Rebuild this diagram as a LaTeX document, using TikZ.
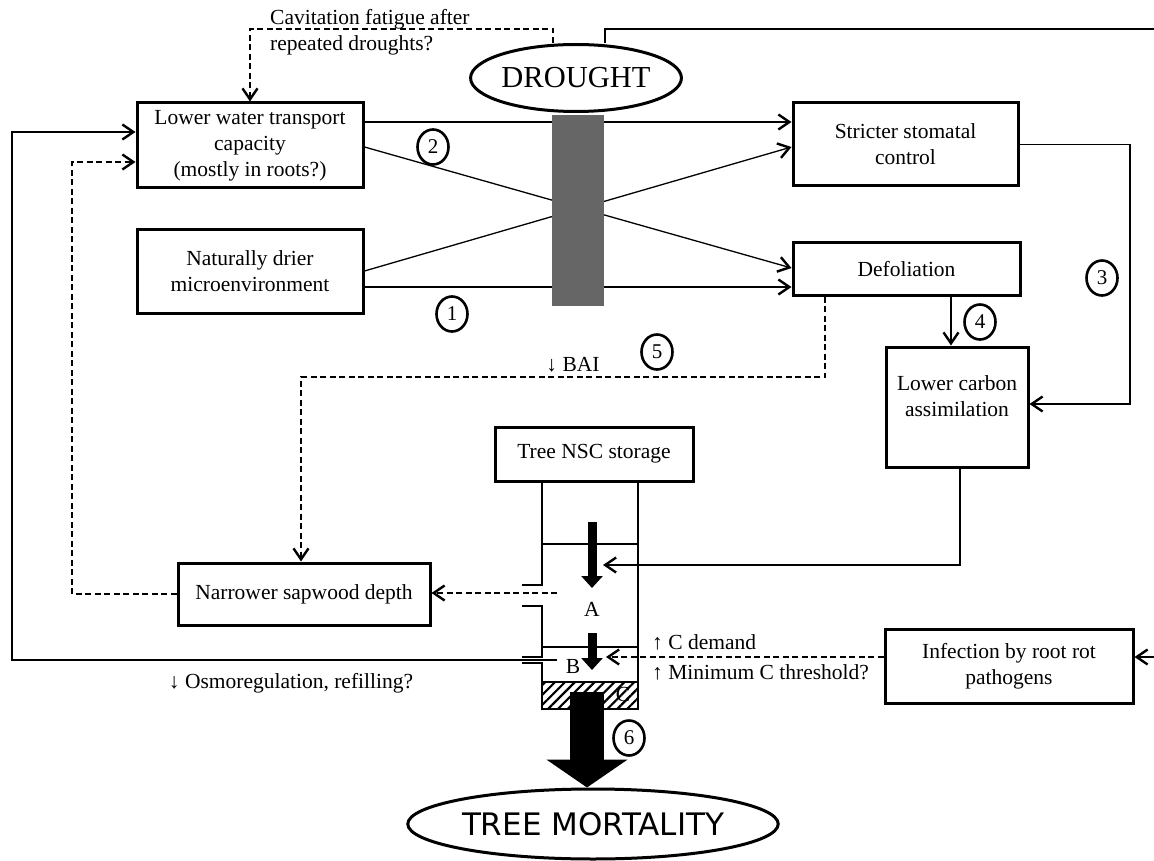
\documentclass[tikz,border=0pt]{standalone}
\usepackage{fontspec}
\setmainfont{Liberation Serif}
\newfontfamily\dejavu{DejaVu Sans}
\usetikzlibrary{arrows.meta,shapes.geometric,patterns.meta,calc}
\definecolor{bargray}{HTML}{666666}
\begin{document}
\begin{tikzpicture}[x=1pt,y=-1pt,
  box/.style={draw, line width=3pt, fill=white, inner sep=0pt, align=center, font=\fontsize{21.5}{26}\selectfont},
  conn/.style={line width=1.3pt},
  arr/.style={conn, -{Straight Barb[length=11pt,width=15pt,line width=2.4pt]}},
  dsh/.style={dash pattern=on 6pt off 3.5pt},
  num/.style={draw, ellipse, line width=2.6pt, minimum width=31pt, minimum height=35pt, inner sep=0pt, font=\fontsize{21}{24}\selectfont},
  lab/.style={font=\fontsize{21.5}{26}\selectfont, inner sep=0pt},
  wall/.style={line width=1.3pt},
  fatarrow/.style={line width=9pt, -{Triangle[length=12pt,width=21pt]}},
]
\useasboundingbox (0,0) rectangle (1154,861);

% helper coordinates
\coordinate (y122) at (0,122);
\coordinate (y132) at (0,132);
\coordinate (y147) at (0,147);
\coordinate (y162) at (0,162);
\coordinate (y268) at (0,268);
\coordinate (y271) at (0,271);
\coordinate (y287) at (0,287);
\coordinate (y377) at (0,377);
\coordinate (y404) at (0,404);
\coordinate (y657) at (0,657);
\coordinate (y660) at (0,660);
\coordinate (x12) at (12,0);
\coordinate (x72) at (72,0);
\coordinate (x301) at (301,0);
\coordinate (x825) at (825,0);
\coordinate (x951) at (951,0);
\coordinate (x960) at (960,0);
\coordinate (x1130) at (1130,0);
\coordinate (cav) at (553,29);
\coordinate (dtop) at (605,29);
\coordinate (edgeR) at (1154,29);
\coordinate (edgeInf) at (1154,657);
\coordinate (colin) at (603,565);
\coordinate (cinf) at (606,657);
\coordinate (cnsd) at (557,593);
\coordinate (cloop) at (557,660);
\coordinate (c6) at (587,692);

% boxes
\node[box, minimum width=226pt, minimum height=85pt] (lwt) at (250,145.5) {Lower water transport\\capacity\\(mostly in roots?)};
\node[box, minimum width=225pt, minimum height=83pt] (ssc) at (905.5,144.5) {Stricter stomatal\\control};
\node[box, minimum width=226pt, minimum height=83pt] (nat) at (250,271.5) {Naturally drier\\microenvironment};
\node[box, minimum width=227pt, minimum height=52pt] (def) at (906.5,269) {Defoliation};
\node[box, minimum width=142pt, minimum height=120pt] (lca) at (957,407) {};
\node[lab, align=center] (lcat) at (957,396) {Lower carbon\\assimilation};
\node[box, minimum width=198pt, minimum height=54pt] (nsc) at (594,454) {Tree NSC storage};
\node[box, minimum width=252pt, minimum height=62pt] (nsd) at (304,594) {Narrower sapwood depth};
\node[box, minimum width=248pt, minimum height=74pt] (inf) at (1009,666) {Infection by root rot\\pathogens};

% ellipses
\node[draw, ellipse, line width=3pt, fill=white, inner sep=0pt, minimum width=191pt, minimum height=67pt, font=\fontsize{30.5}{36}\selectfont] (dr) at (576,78) {DROUGHT};
\node[draw, ellipse, line width=3pt, fill=white, inner sep=0pt, minimum width=342pt, minimum height=70pt, font=\dejavu\fontsize{31}{36}\selectfont] (tm) at (593,824) {TREE MORTALITY};

% drought connectors
\draw[arr, dsh] (dr.north -| cav) -- (cav) -| (lwt.north);
\draw[conn] (dr.north -| dtop) -- (dtop) -- (edgeR);

% crossing lines
\draw[arr] (lwt.east |- y122) -- (ssc.west |- y122);
\draw[arr] (lwt.east |- y147) -- (def.west |- y268);
\draw[arr] (nat.east |- y271) -- (ssc.west |- y147);
\draw[arr] (nat.east |- y287) -- (def.west |- y287);

% gray bar
\node[fill=bargray, inner sep=0pt, minimum width=52pt, minimum height=191pt] (bar) at (578,210.5) {};

% stricter -> lower carbon
\draw[arr] (ssc.east) -- (ssc.east -| x1130) -- (x1130 |- y404) -- (lca.east |- y404);
% defoliation -> lower carbon
\draw[arr] (def.south -| x951) -- (lca.north -| x951);
% defoliation -> narrower sapwood (BAI)
\draw[arr, dsh] (def.south -| x825) -- (x825 |- y377) -- (x301 |- y377) -- (nsd.north -| x301);
% lower carbon -> storage
\draw[arr] (lca.south -| x960) |- (colin);
% infection -> storage
\draw[arr, dsh] (inf.west |- y657) -- (cinf);
\draw[arr] (edgeInf) -- (inf.east |- y657);
% storage -> narrower sapwood
\draw[arr, dsh] (cnsd) -- (nsd.east |- cnsd);
% narrower sapwood -> lower water transport
\draw[arr, dsh] (nsd.west) -- (x72 |- nsd.west) -- (x72 |- y162) -- (lwt.west |- y162);
% osmoregulation loop
\draw[arr] (cloop) -- (x12 |- y660) -- (x12 |- y132) -- (lwt.west |- y132);

% storage column
\draw[wall] (638,481) -- (638,709);
\draw[wall] (542,481) -- (542,585) -- (522,585);
\draw[wall] (522,606) -- (542,606) -- (542,657) -- (522,657);
\draw[wall] (522,663) -- (542,663) -- (542,682);
\draw[wall] (542,544) -- (638,544);
\draw[wall] (542,647) -- (638,647);
\fill[pattern={Lines[angle=45,distance=7pt,line width=2.2pt]}] (542,682) rectangle (638,709);
\draw[line width=1.5pt] (542,682) rectangle (638,709);

\node[lab] (la) at (592,609) {A};
\node[lab] (lb) at (573,666) {B};
\node[lab] (lc) at (623,694) {C};

\draw[fatarrow] (592,522) -- (592,588);
\draw[fatarrow] (592,633) -- (592,670);
\draw[line width=34pt, -{Triangle[length=28pt,width=80pt]}] (c6) -- (c6 |- tm.north);

% labels
\node[lab, anchor=west, align=left] (cavt) at (270,32) {Cavitation fatigue after\\repeated droughts?};
\node[lab] (bai) at (573,365) {↓ BAI};
\node[lab] (osm) at (291,683) {↓ Osmoregulation, refilling?};
\node[lab, anchor=west] (cdem) at (652,642) {↑ C demand};
\node[lab, anchor=west] (cmin) at (652,672) {↑ Minimum C threshold?};

% numbers
\node[num] (n1) at (452,314) {1};
\node[num] (n2) at (433,147) {2};
\node[num] (n3) at (1102,278) {3};
\node[num] (n4) at (980,322) {4};
\node[num] (n5) at (657,352) {5};
\node[num] (n6) at (629,738) {6};
\end{tikzpicture}
\end{document}
